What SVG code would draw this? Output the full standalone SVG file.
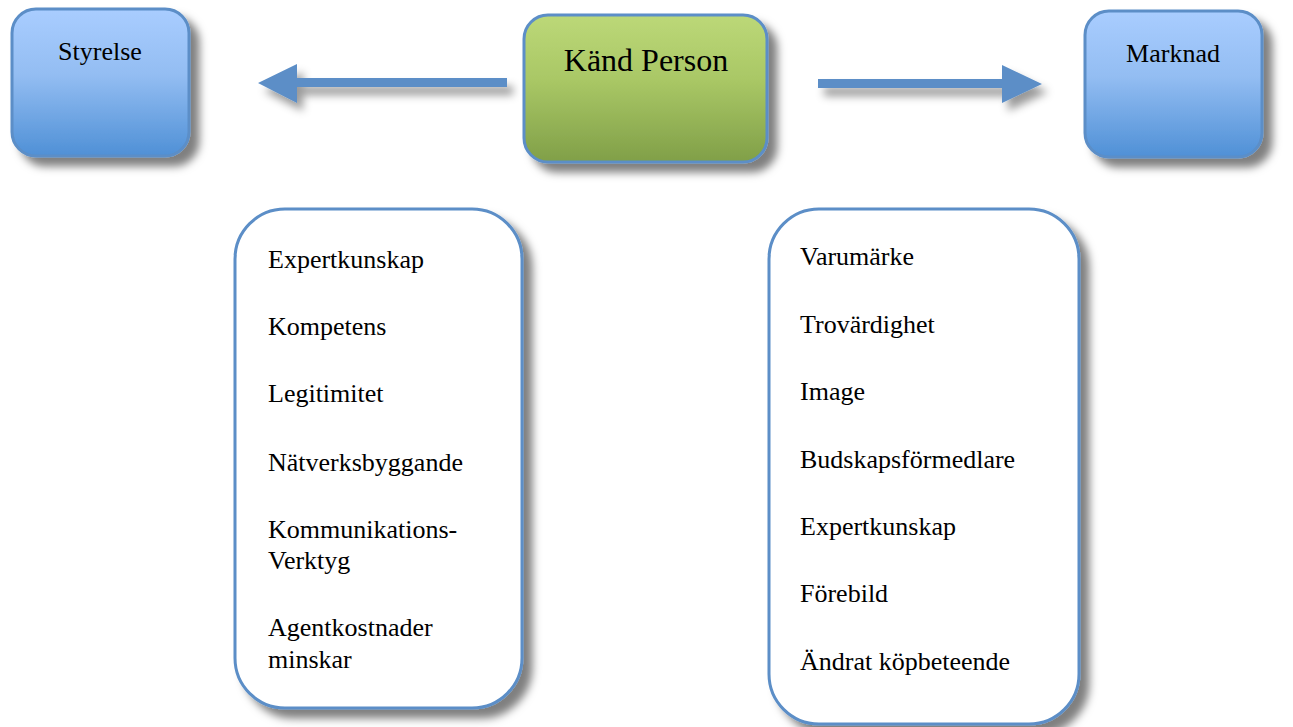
<svg xmlns="http://www.w3.org/2000/svg" width="1293" height="727" viewBox="0 0 1293 727">
<defs>
<linearGradient id="gBlue" x1="0" y1="0" x2="0" y2="1">
<stop offset="0" stop-color="#a9cdff"/>
<stop offset="0.45" stop-color="#93bdf2"/>
<stop offset="1" stop-color="#4f90d6"/>
</linearGradient>
<linearGradient id="gGreen" x1="0" y1="0" x2="0" y2="1">
<stop offset="0" stop-color="#bcd878"/>
<stop offset="0.45" stop-color="#a9c765"/>
<stop offset="1" stop-color="#809f48"/>
</linearGradient>
<filter id="sh" x="-20%" y="-20%" width="150%" height="150%">
<feDropShadow dx="9" dy="9" stdDeviation="4.5" flood-color="#000" flood-opacity="0.5"/>
</filter>
<filter id="ash" x="-20%" y="-100%" width="150%" height="300%">
<feDropShadow dx="6" dy="8" stdDeviation="4" flood-color="#000" flood-opacity="0.4"/>
</filter>
</defs>
<style>
.box{stroke:#5b8ec7;stroke-width:3;filter:url(#sh)}
.t{font-family:"Liberation Serif","Times New Roman",serif;font-size:26px;fill:#000}
.tc{text-anchor:middle}
.arr{fill:#5b8ec7;filter:url(#ash)}
</style>
<rect width="1293" height="727" fill="#fff"/>
<g id="connectors">
<path class="arr" d="M507,78 L297,78 L297,64 L258,83 L297,103 L297,87 L507,87 Z"/>
<path class="arr" d="M818,79 L1002,79 L1002,65 L1042,84 L1002,103 L1002,88 L818,88 Z"/>
</g>
<g id="styrelse">
<rect class="box" x="12" y="9" width="177" height="147" rx="24" fill="url(#gBlue)"/>
<text class="t tc" x="100" y="60">Styrelse</text>
</g>
<g id="kand-person">
<rect class="box" x="524" y="15" width="243" height="147" rx="24" fill="url(#gGreen)"/>
<text class="t tc" x="646" y="71" style="font-size:32px">Känd Person</text>
</g>
<g id="marknad">
<rect class="box" x="1085" y="11" width="177" height="146" rx="24" fill="url(#gBlue)"/>
<text class="t tc" x="1173" y="62">Marknad</text>
</g>
<g id="styrelse-list">
<rect class="box" x="235" y="209" width="287" height="499" rx="50" fill="#fff"/>
<text class="t" x="268" y="268">Expertkunskap</text>
<text class="t" x="268" y="335">Kompetens</text>
<text class="t" x="268" y="402">Legitimitet</text>
<text class="t" x="268" y="471">Nätverksbyggande</text>
<text class="t" x="268" y="538">Kommunikations-</text>
<text class="t" x="268" y="569">Verktyg</text>
<text class="t" x="268" y="636">Agentkostnader</text>
<text class="t" x="268" y="668">minskar</text>
</g>
<g id="marknad-list">
<rect class="box" x="769" y="209" width="310" height="515" rx="50" fill="#fff"/>
<text class="t" x="800" y="265">Varumärke</text>
<text class="t" x="800" y="333">Trovärdighet</text>
<text class="t" x="800" y="400">Image</text>
<text class="t" x="800" y="468">Budskapsförmedlare</text>
<text class="t" x="800" y="535">Expertkunskap</text>
<text class="t" x="800" y="602">Förebild</text>
<text class="t" x="800" y="670">Ändrat köpbeteende</text>
</g>
</svg>
